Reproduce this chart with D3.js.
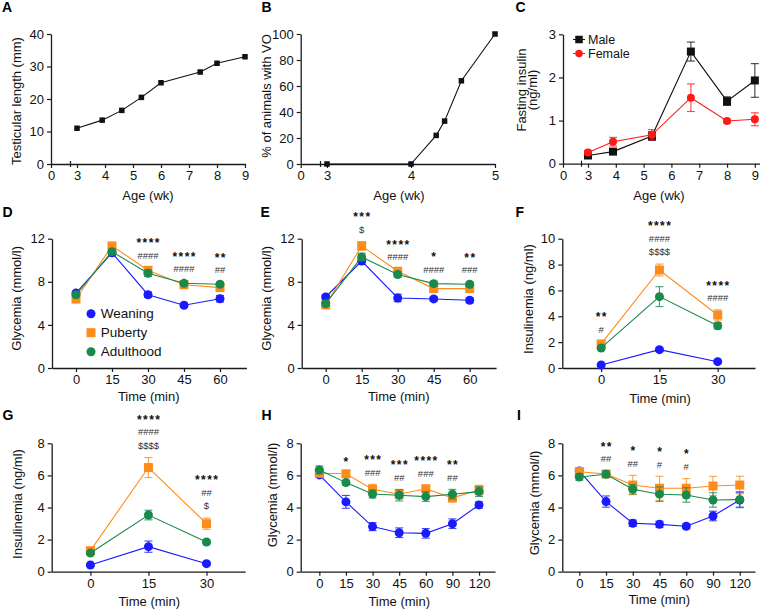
<!DOCTYPE html>
<html><head><meta charset="utf-8">
<script src="https://cdn.jsdelivr.net/npm/d3@7"></script>
<style>
body{margin:0;background:#fff;}
svg{display:block;font-family:Arial,"Liberation Sans",sans-serif;}
</style></head><body>
<svg id="c" width="760" height="611"></svg>
<script>
// ---------------- DATA ----------------
// Panel A
const ageA = [3, 3.9, 4.6, 5.3, 6, 7.4, 8, 9];
const testicularLength = [11, 13.5, 16.5, 20.5, 25, 28.3, 31, 33];
const ticksAgeA = [0, 3, 4, 5, 6, 7, 8, 9];
const ticksLengthA = [0, 10, 20, 30, 40];
// Panel B
const ageB = [3, 4, 4.3, 4.4, 4.6, 5];
const voPercent = [0, 0, 22, 33, 64, 100];
const ticksAgeB = [0, 3, 4, 5];
const ticksPctB = [0, 20, 40, 60, 80, 100];
// Panel C
const ageC = [3, 3.9, 5.3, 6.7, 8, 9];
const insulinMale = [0.19, 0.28, 0.64, 2.6, 1.45, 1.93];
const insulinMaleSem = [0.04, 0.05, 0.1, 0.22, 0.1, 0.39];
const insulinFemale = [0.26, 0.51, 0.67, 1.53, 0.99, 1.03];
const insulinFemaleSem = [0.05, 0.1, 0.12, 0.32, 0.04, 0.15];
const ticksAgeC = [0, 3, 4, 5, 6, 7, 8, 9];
const ticksInsC = [0, 1, 2, 3];
const legendC = ["Male", "Female"];

const groups = ["Weaning", "Puberty", "Adulthood"];
// Panel D (time 0-60)
const timeDE = [0, 15, 30, 45, 60];
const dWeaning = [6.95, 10.7, 6.8, 5.82, 6.43];
const dWeaningSem = [0.2, 0.3, 0.25, 0.2, 0.3];
const dPuberty = [6.4, 11.33, 9.07, 7.73, 7.46];
const dPubertySem = [0.2, 0.3, 0.25, 0.2, 0.2];
const dAdulthood = [6.8, 10.8, 8.79, 7.86, 7.77];
const dAdulthoodSem = [0.2, 0.2, 0.3, 0.2, 0.2];
const annD = [[30, ["****", "####"]], [45, ["****", "####"]], [60, ["**", "##"]]];
// Panel E
const eWeaning = [6.59, 9.93, 6.5, 6.41, 6.29];
const eWeaningSem = [0.2, 0.3, 0.35, 0.2, 0.25];
const ePuberty = [5.85, 11.33, 8.98, 7.37, 7.37];
const ePubertySem = [0.2, 0.4, 0.2, 0.2, 0.2];
const eAdulthood = [5.97, 10.3, 8.67, 7.83, 7.77];
const eAdulthoodSem = [0.2, 0.35, 0.25, 0.2, 0.2];
const annE = [[15, ["***", "$"]], [30, ["****", "####"]], [45, ["*", "####"]], [60, ["**", "###"]]];
const ticksGly12 = [0, 4, 8, 12];
// Panel F (time 0-30)
const timeFG = [0, 15, 30];
const fWeaning = [0.23, 1.42, 0.49];
const fWeaningSem = [0.1, 0.15, 0.1];
const fPuberty = [1.86, 7.58, 4.1];
const fPubertySem = [0.2, 0.46, 0.4];
const fAdulthood = [1.55, 5.52, 3.27];
const fAdulthoodSem = [0.15, 0.77, 0.25];
const annF = [[0, ["**", "#"]], [15, ["****", "####", "$$$$"]], [30, ["****", "####"]]];
const ticksInsF = [0, 2, 4, 6, 8, 10];
// Panel G
const gWeaning = [0.42, 1.56, 0.5];
const gWeaningSem = [0.08, 0.35, 0.08];
const gPuberty = [1.31, 6.49, 2.99];
const gPubertySem = [0.1, 0.62, 0.35];
const gAdulthood = [1.16, 3.53, 1.85];
const gAdulthoodSem = [0.1, 0.3, 0.12];
const annG = [[15, ["****", "####", "$$$$"]], [30, ["****", "##", "$"]]];
const ticks8 = [0, 2, 4, 6, 8];
// Panel H (categorical time)
const timeHI = ["0", "15", "30", "45", "60", "90", "120"];
const hWeaning = [6.03, 4.35, 2.81, 2.43, 2.39, 2.99, 4.16];
const hWeaningSem = [0.15, 0.4, 0.25, 0.3, 0.3, 0.3, 0.2];
const hPuberty = [6.13, 6.1, 5.14, 4.83, 5.17, 4.6, 5.09];
const hPubertySem = [0.2, 0.15, 0.3, 0.3, 0.2, 0.25, 0.3];
const hAdulthood = [6.34, 5.55, 4.84, 4.76, 4.68, 4.83, 4.99];
const hAdulthoodSem = [0.25, 0.15, 0.25, 0.35, 0.3, 0.3, 0.3];
const annH = [["15", ["*"]], ["30", ["***", "###"]], ["45", ["***", "##"]], ["60", ["****", "###"]], ["90", ["**", "##"]]];
// Panel I
const iWeaning = [6.28, 4.37, 3.02, 2.95, 2.83, 3.47, 4.47];
const iWeaningSem = [0.15, 0.35, 0.2, 0.2, 0.15, 0.3, 0.45];
const iPuberty = [6.23, 6.09, 5.4, 5.2, 5.2, 5.34, 5.4];
const iPubertySem = [0.25, 0.15, 0.6, 0.75, 0.6, 0.6, 0.55];
const iAdulthood = [5.9, 6.07, 5.14, 4.83, 4.78, 4.47, 4.49];
const iAdulthoodSem = [0.2, 0.2, 0.3, 0.45, 0.45, 0.45, 0.5];
const annI = [["15", ["**", "##"]], ["30", ["*", "##"]], ["45", ["*", "#"]], ["60", ["*", "#"]]];

// ---------------- DRAWING ----------------
const svg = d3.select("#c");
const FF = "Arial, 'Liberation Sans', sans-serif";
const COL = { Weaning: "#1a1aff", Puberty: "#ff8c1a", Adulthood: "#178a4c" };
const SHAPE = { Weaning: "circle", Puberty: "square", Adulthood: "circle" };
const intFmt = d3.format("d");

function styleAxis(sel) {
  sel.attr("font-size", 13).attr("font-family", FF);
  sel.select(".domain").attr("stroke", "#1a1a1a").attr("stroke-width", 1.3);
  sel.selectAll(".tick line").attr("stroke", "#1a1a1a").attr("stroke-width", 1.2);
  sel.selectAll(".tick text").attr("fill", "#111");
}
function axes(x, y, xTicks, yTicks, xFmt) {
  const y0 = y.range()[0], x0 = x.range()[0];
  const ax = d3.axisBottom(x).tickValues(xTicks).tickSize(4).tickPadding(3).tickSizeOuter(0)
    .tickFormat(xFmt || intFmt);
  svg.append("g").attr("transform", `translate(0,${y0})`).call(ax).call(styleAxis);
  svg.append("g").attr("transform", `translate(${x0},0)`)
    .call(d3.axisLeft(y).tickValues(yTicks).tickFormat(intFmt).tickSize(4).tickPadding(3).tickSizeOuter(0))
    .call(styleAxis);
}
function axisBreak(x, y, v) {
  const bx = x(v) - 6.5, y0 = y.range()[0];
  svg.append("line").attr("x1", bx).attr("x2", bx).attr("y1", y0 - 3).attr("y2", y0 + 3)
    .attr("stroke", "#1a1a1a").attr("stroke-width", 1.2);
}
function marker(g, shape, cx, cy, size, color) {
  if (shape === "square") {
    g.append("rect").attr("x", cx - size / 2).attr("y", cy - size / 2).attr("width", size).attr("height", size).attr("fill", color);
  } else {
    g.append("circle").attr("cx", cx).attr("cy", cy).attr("r", size / 2).attr("fill", color);
  }
}
function series(x, y, xs, vals, sems, color, shape, size) {
  const g = svg.append("g");
  const pts = xs.map((t, i) => ({ t, v: vals[i], s: sems ? sems[i] : 0 }));
  if (sems) {
    pts.forEach(d => {
      if (!d.s) return;
      const cx = x(d.t);
      g.append("line").attr("x1", cx).attr("x2", cx).attr("y1", y(d.v - d.s)).attr("y2", y(d.v + d.s))
        .attr("stroke", color).attr("stroke-width", 1.1).attr("opacity", 0.8);
      [d.v - d.s, d.v + d.s].forEach(e => g.append("line").attr("x1", cx - 4).attr("x2", cx + 4)
        .attr("y1", y(e)).attr("y2", y(e)).attr("stroke", color).attr("stroke-width", 1.1).attr("opacity", 0.8));
    });
  }
  g.append("path").datum(pts).attr("d", d3.line().x(d => x(d.t)).y(d => y(d.v)))
    .attr("fill", "none").attr("stroke", color).attr("stroke-width", 1.1);
  pts.forEach(d => marker(g, shape, x(d.t), y(d.v), size, color));
}
function yTitle(lines, cx, cy, gap) {
  lines.forEach((t, i) => {
    svg.append("text").attr("transform", `translate(${cx + i * (gap || 0)},${cy}) rotate(-90)`)
      .attr("text-anchor", "middle").attr("dy", "0.35em").attr("font-size", 13).attr("font-family", FF)
      .attr("fill", "#111").text(t);
  });
}
function xTitle(t, cx, by) {
  svg.append("text").attr("x", cx).attr("y", by).attr("text-anchor", "middle").attr("font-size", 13)
    .attr("font-family", FF).attr("fill", "#111").text(t);
}
function letter(t, x, y) {
  svg.append("text").attr("x", x).attr("y", y).attr("font-size", 14).attr("font-weight", "bold")
    .attr("font-family", FF).attr("fill", "#000").text(t);
}
function annotate(x, y, xs, ann, sets) {
  ann.forEach(([key, marks]) => {
    const i = xs.indexOf(key);
    const top = d3.max(sets, s => s[0][i] + s[1][i]);
    let cy = y(top) - 12;
    const cx = x(typeof key === "string" ? i : key);
    for (let k = marks.length - 1; k >= 0; k--) {
      const m = marks[k];
      const star = m[0] === "*";
      const fs = star ? 12 : 9.5;
      svg.append("text").attr("x", cx + (star ? 0.7 : 0)).attr("y", cy + (star ? 0.52 : 0.35) * fs)
        .attr("text-anchor", "middle").attr("font-size", fs).attr("font-family", FF)
        .attr("font-weight", star ? "bold" : "normal").attr("letter-spacing", star ? 1.4 : 0)
        .attr("fill", star ? "#111" : "#333").text(m);
      const next = marks[k - 1];
      cy -= (next && next[0] === "*") ? 14.5 : 13.5;
    }
  });
}
function groupPanel(x, y, xs, data, sizeC, sizeS) {
  groups.forEach((gname, k) => {
    series(x, y, xs, data[k][0], data[k][1], COL[gname], SHAPE[gname], SHAPE[gname] === "square" ? sizeS : sizeC);
  });
}

// ---- Panel A ----
{
  const x = d3.scaleLinear().domain([0, 3, 9]).range([51, 77, 245]);
  const y = d3.scaleLinear().domain([0, 40]).range([164, 34]);
  axes(x, y, ticksAgeA, ticksLengthA);
  axisBreak(x, y, 3);
  series(x, y, ageA, testicularLength, null, "#111", "square", 5.5);
  yTitle(["Testicular length (mm)"], 16.7, 101);
  xTitle("Age (wk)", 148, 199.5);
  letter("A", 2, 12);
}
// ---- Panel B ----
{
  const x = d3.scaleLinear().domain([0, 3, 5]).range([300.7, 327, 495]);
  const y = d3.scaleLinear().domain([0, 100]).range([164, 34]);
  axes(x, y, ticksAgeB, ticksPctB);
  axisBreak(x, y, 3);
  series(x, y, ageB, voPercent, null, "#111", "square", 5.5);
  yTitle(["% of animals with VO"], 266.7, 96);
  xTitle("Age (wk)", 399, 199.5);
  letter("B", 261.5, 12);
}
// ---- Panel C ----
{
  const x = d3.scaleLinear().domain([0, 3, 9.2]).range([563, 588, 760.4]);
  const y = d3.scaleLinear().domain([0, 3]).range([163.7, 34.3]);
  axes(x, y, ticksAgeC, ticksInsC);
  axisBreak(x, y, 3);
  series(x, y, ageC, insulinMale, insulinMaleSem, "#111", "square", 8);
  series(x, y, ageC, insulinFemale, insulinFemaleSem, "#ff1a1a", "circle", 8);
  const lg = svg.append("g");
  [["#111", "square"], ["#ff1a1a", "circle"]].forEach(([c, s], i) => {
    const cy = 39.5 + i * 14;
    lg.append("line").attr("x1", 573).attr("x2", 585).attr("y1", cy).attr("y2", cy).attr("stroke", c).attr("stroke-width", 1);
    marker(lg, s, 579, cy, 7.5, c);
    lg.append("text").attr("x", 588).attr("y", cy).attr("dy", "0.35em").attr("font-size", 12.5)
      .attr("font-family", FF).attr("fill", "#111").text(legendC[i]);
  });
  yTitle(["Fasting insulin", "(ng/ml)"], 521.7, 90, 11);
  xTitle("Age (wk)", 659, 199.5);
  letter("C", 515.5, 12);
}
// ---- Panel D ----
{
  const x = d3.scaleLinear().domain([-10, 71]).range([52, 246.4]);
  const y = d3.scaleLinear().domain([0, 12]).range([368, 238.7]);
  axes(x, y, timeDE, ticksGly12);
  const data = [[dWeaning, dWeaningSem], [dPuberty, dPubertySem], [dAdulthood, dAdulthoodSem]];
  groupPanel(x, y, timeDE, data, 9, 9);
  annotate(x, y, timeDE, annD, data);
  groups.forEach((gname, i) => {
    const cy = 313.7 + i * 19;
    marker(svg, SHAPE[gname], 91, cy, 9, COL[gname]);
    svg.append("text").attr("x", 100.7).attr("y", cy).attr("dy", "0.35em").attr("font-size", 13.5)
      .attr("font-family", FF).attr("fill", "#111").text(gname);
  });
  yTitle(["Glycemia (mmol/l)"], 16.7, 298.3);
  xTitle("Time (min)", 148.7, 401);
  letter("D", 2.5, 217);
}
// ---- Panel E ----
{
  const x = d3.scaleLinear().domain([-10, 71]).range([301.7, 496.1]);
  const y = d3.scaleLinear().domain([0, 12]).range([368, 238.7]);
  axes(x, y, timeDE, ticksGly12);
  const data = [[eWeaning, eWeaningSem], [ePuberty, ePubertySem], [eAdulthood, eAdulthoodSem]];
  groupPanel(x, y, timeDE, data, 9, 9);
  annotate(x, y, timeDE, annE, data);
  yTitle(["Glycemia (mmol/l)"], 266.7, 298.3);
  xTitle("Time (min)", 398.7, 401);
  letter("E", 260.5, 217);
}
// ---- Panel F ----
{
  const x = d3.scaleLinear().domain([-10, 39.6]).range([562.3, 755]);
  const y = d3.scaleLinear().domain([0, 10]).range([368, 238.7]);
  axes(x, y, timeFG, ticksInsF);
  const data = [[fWeaning, fWeaningSem], [fPuberty, fPubertySem], [fAdulthood, fAdulthoodSem]];
  groupPanel(x, y, timeFG, data, 9, 9);
  annotate(x, y, timeFG, annF, data);
  yTitle(["Insulinemia (ng/ml)"], 528, 299);
  xTitle("Time (min)", 660, 403);
  letter("F", 515.5, 217);
}
// ---- Panel G ----
{
  const x = d3.scaleLinear().domain([-10, 40]).range([51.7, 245.2]);
  const y = d3.scaleLinear().domain([0, 8]).range([571.7, 443.3]);
  axes(x, y, timeFG, ticks8);
  const data = [[gWeaning, gWeaningSem], [gPuberty, gPubertySem], [gAdulthood, gAdulthoodSem]];
  groupPanel(x, y, timeFG, data, 9, 9);
  annotate(x, y, timeFG, annG, data);
  yTitle(["Insulinemia (ng/ml)"], 17.7, 504);
  xTitle("Time (min)", 149.2, 606);
  letter("G", 2.5, 419.5);
}
// ---- Panel H ----
{
  const idx = timeHI.map((d, i) => i);
  const x = d3.scaleLinear().domain([-0.7, 6.6]).range([300.7, 495]);
  const y = d3.scaleLinear().domain([0, 8]).range([571.7, 443.3]);
  axes(x, y, idx, ticks8, i => timeHI[i]);
  const data = [[hWeaning, hWeaningSem], [hPuberty, hPubertySem], [hAdulthood, hAdulthoodSem]];
  groupPanel(x, y, idx, data, 9, 9);
  annotate(x, y, timeHI, annH, data);
  yTitle(["Glycemia (mmol/l)"], 272, 495);
  xTitle("Time (min)", 399.2, 605.5);
  letter("H", 261.5, 419.5);
}
// ---- Panel I ----
{
  const idx = timeHI.map((d, i) => i);
  const x = d3.scaleLinear().domain([-0.635, 6.57]).range([562.3, 755]);
  const y = d3.scaleLinear().domain([0, 8]).range([571.7, 443.3]);
  axes(x, y, idx, ticks8, i => timeHI[i]);
  const data = [[iWeaning, iWeaningSem], [iPuberty, iPubertySem], [iAdulthood, iAdulthoodSem]];
  groupPanel(x, y, idx, data, 9, 9);
  annotate(x, y, timeHI, annI, data);
  yTitle(["Glycemia (mmol/l)"], 534.7, 503);
  xTitle("Time (min)", 659.2, 603.5);
  letter("I", 517, 419.5);
}
</script></body></html>
